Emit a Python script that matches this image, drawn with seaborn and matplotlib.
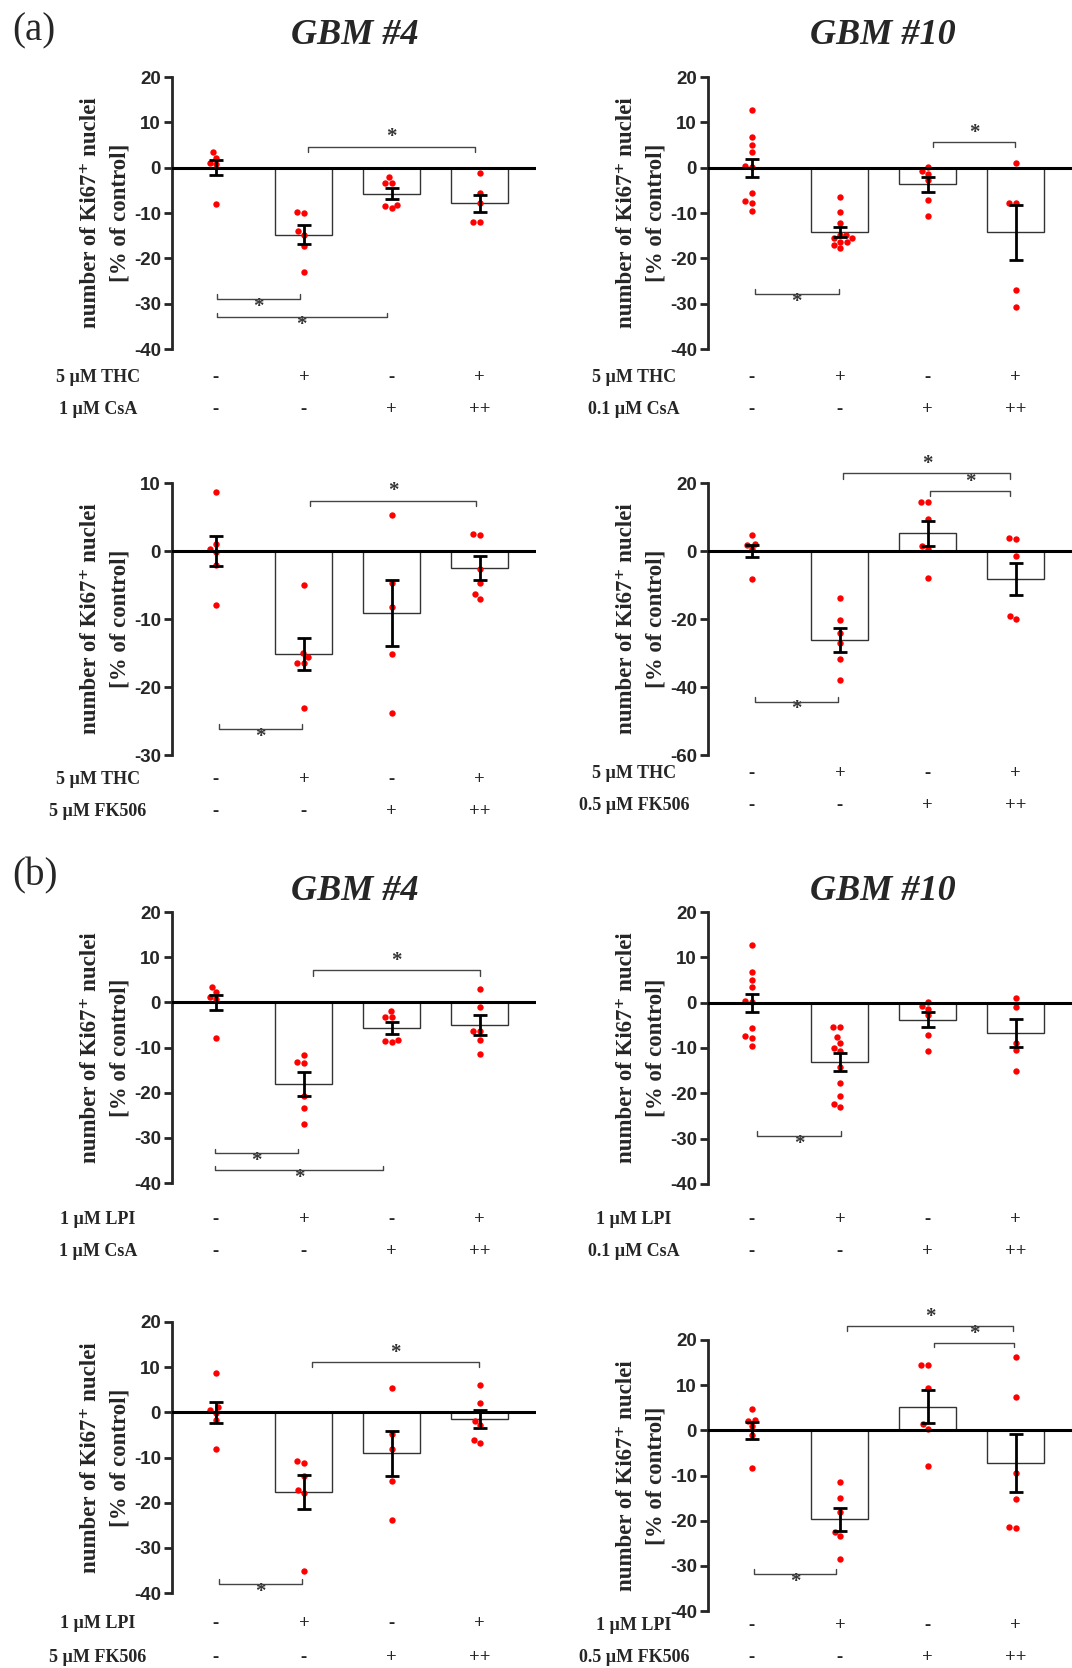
import warnings
import matplotlib
matplotlib.use("Agg")
import matplotlib.pyplot as plt
import matplotlib.transforms as mtransforms
from matplotlib.font_manager import FontProperties
import numpy as np
import pandas as pd
import seaborn as sns

warnings.filterwarnings("ignore")

# ---- data (% of control) ----
groups = ["g0", "g1", "g2", "g3"]
signs_top = ["-", "+", "-", "+"]
signs_bot = ["-", "-", "+", "++"]

# (a) GBM #4, THC + CsA
a1_means = [0.0, -14.8, -5.7, -7.9]
a1_sems = [1.7, 2.05, 1.3, 1.8]
a1_points = [[3.5, 2.2, 1.1, 0.7, -8.1],
             [-10.1, -9.8, -14.8, -14.0, -17.3, -23.1],
             [-2.1, -3.4, -3.4, -8.9, -8.15, -8.5],
             [-1.25, -5.5, -7.7, -12.0, -12.0]]
a1_rows = ["5 µM THC", "1 µM CsA"]

# (a) GBM #10, THC + CsA
a2_means = [0.0, -14.1, -3.7, -14.3]
a2_sems = [1.95, 1.1, 1.65, 6.1]
a2_points = [[12.8, 6.75, 4.9, 3.45, 0.4, 0.15, -5.6, -7.4, -7.7, -9.55],
             [-6.4, -9.8, -12.3, -14.75, -14.75, -15.5, -15.5, -16.3, -16.3, -17.1, -17.8],
             [0.15, -0.7, -1.3, -2.8, -7.2, -10.65],
             [1.0, -7.7, -7.9, -26.9, -30.8]]
a2_rows = ["5 µM THC", "0.1 µM CsA"]

# (a) GBM #4, THC + FK506
a3_means = [0.0, -15.2, -9.1, -2.5]
a3_sems = [2.2, 2.35, 4.9, 1.75]
a3_points = [[8.66, 1.1, 0.34, -0.15, -2.0, -8.0],
             [-5.04, -15.0, -15.65, -16.4, -16.4, -23.05],
             [5.34, -4.65, -8.17, -15.1, -23.8],
             [2.4, 2.55, -2.7, -4.65, -6.36, -7.05]]
a3_rows = ["5 µM THC", "5 µM FK506"]

# (a) GBM #10, THC + FK506
a4_means = [0.0, -26.2, 5.2, -8.3]
a4_sems = [1.85, 3.5, 3.7, 4.7]
a4_points = [[4.6, 2.16, 1.86, 0.5, -8.35],
             [-13.9, -20.3, -24.2, -27.0, -31.9, -38.0],
             [14.5, 14.5, 9.3, 1.47, 0.49, -7.85],
             [3.93, 3.43, -1.47, -19.1, -20.1]]
a4_rows = ["5 µM THC", "0.5 µM FK506"]

# (b) GBM #4, LPI + CsA
b1_means = [0.0, -18.1, -5.7, -5.0]
b1_sems = [1.7, 2.65, 1.25, 2.15]
b1_points = [[3.5, 2.3, 1.2, 0.8, -8.0],
             [-11.6, -13.2, -13.4, -20.8, -23.5, -26.9],
             [-1.9, -3.3, -3.3, -8.3, -8.5, -8.85],
             [2.95, -1.1, -6.3, -6.4, -8.3, -11.5]]
b1_rows = ["1 µM LPI", "1 µM CsA"]

# (b) GBM #10, LPI + CsA
b2_means = [0.0, -13.0, -3.75, -6.7]
b2_sems = [1.95, 2.0, 1.65, 3.0]
b2_points = [[12.8, 6.75, 4.9, 3.45, 0.4, 0.15, -5.6, -7.4, -7.7, -9.55],
             [-5.45, -5.45, -7.5, -8.8, -9.9, -10.7, -14.3, -17.8, -20.5, -22.4, -23.0],
             [0.15, -0.7, -1.3, -2.8, -7.2, -10.65],
             [1.0, -1.0, -8.8, -10.5, -15.0]]
b2_rows = ["1 µM LPI", "0.1 µM CsA"]

# (b) GBM #4, LPI + FK506
b3_means = [0.0, -17.6, -9.1, -1.5]
b3_sems = [2.3, 3.7, 4.9, 2.0]
b3_points = [[8.8, 1.18, 0.44, -0.15, -1.77, -8.04],
             [-10.85, -11.2, -14.0, -17.3, -17.8, -35.1],
             [5.46, -4.72, -8.2, -15.1, -23.8],
             [6.05, 2.14, -1.92, -2.88, -6.1, -6.7]]
b3_rows = ["1 µM LPI", "5 µM FK506"]

# (b) GBM #10, LPI + FK506
b4_means = [0.0, -19.7, 5.25, -7.25]
b4_sems = [1.85, 2.5, 3.7, 6.4]
b4_points = [[4.65, 2.3, 2.1, 1.0, -1.0, -8.4],
             [-11.45, -14.9, -18.0, -22.5, -23.4, -28.4],
             [14.56, 14.56, 9.4, 1.4, 0.37, -7.83],
             [16.3, 7.4, -9.5, -15.1, -21.4, -21.7]]
b4_rows = ["1 µM LPI", "0.5 µM FK506"]

# significance brackets: (x from, x to, line y, tip y, star y)
a1_brackets = [(1.05, 2.95, 4.5, 3.4, 6.8), (0.01, 0.96, -29.0, -27.9, -30.7), (0.01, 1.94, -33.0, -32.0, -34.7)]
a2_brackets = [(2.06, 2.99, 5.7, 4.55, 7.6), (0.03, 0.99, -27.9, -26.8, -29.6)]
a3_brackets = [(1.07, 2.96, 7.4, 6.6, 8.8), (0.03, 0.98, -26.2, -25.45, -27.4)]
a4_brackets = [(1.04, 2.94, 22.8, 21.3, 25.5), (2.03, 2.94, 17.7, 16.2, 20.3), (0.04, 0.98, -44.4, -43.0, -46.6)]
b1_brackets = [(1.1, 3.0, 7.1, 5.9, 9.1), (-0.01, 0.93, -33.4, -32.4, -35.2), (-0.01, 1.9, -37.2, -36.2, -38.9)]
b2_brackets = [(0.06, 1.01, -29.4, -28.35, -31.1)]
b3_brackets = [(1.09, 2.99, 11.1, 10.0, 13.1), (0.03, 0.98, -37.9, -36.9, -39.8)]
b4_brackets = [(1.08, 2.97, 23.1, 22.0, 25.2), (2.07, 2.98, 19.4, 18.4, 21.4), (0.02, 0.96, -31.7, -30.7, -33.5)]

# ---- layout in pixels ----
W, H = 1072, 1668
sns.set_style("ticks")
plt.rcParams["font.family"] = ["Liberation Serif", "DejaVu Serif"]

fig = plt.figure(figsize=(W / 100, H / 100), dpi=100)
tick_font = FontProperties(family="Liberation Sans", weight="bold", size=13.5)


def fy(y):
    return 1 - y / H


def panel(box, ylim, yticks, means, sems, points, brackets, rows, row_y):
    x0, x1, ytop, ybot, col = box
    ax = fig.add_axes([x0 / W, fy(ybot), (x1 - x0) / W, (ybot - ytop) / H])

    sns.barplot(x=groups, y=means, order=groups, color="white", edgecolor="#333333",
                linewidth=1.0, width=0.65, errorbar=None, ax=ax, zorder=1)
    df = pd.DataFrame({"group": np.repeat(groups, [len(p) for p in points]),
                       "value": np.concatenate(points)})
    sns.swarmplot(data=df, x="group", y="value", order=groups, color="red",
                  size=4.6, linewidth=0, ax=ax, zorder=3)
    ax.errorbar(range(4), means, yerr=sems, fmt="none", ecolor="black",
                elinewidth=2, capsize=4.8, capthick=2, zorder=4)
    ax.axhline(0, color="black", lw=2.2, zorder=5)

    ax.set_xlim(-0.5, 3.64)
    ax.set_ylim(*ylim)
    ticks = list(yticks)
    ax.set_yticks(ticks, labels=[str(t) for t in ticks])
    for lbl in ax.get_yticklabels():
        lbl.set_fontproperties(tick_font)
    ax.set_xticks([])
    ax.set_xlabel("")
    ax.set_ylabel("")
    for s in ["top", "right", "bottom"]:
        ax.spines[s].set_visible(False)
    ax.spines["left"].set_linewidth(2.0)
    ax.tick_params(axis="y", direction="out", length=6, width=2.0, pad=2)

    for xa, xb, yl, yt, ys in brackets:
        ax.plot([xa, xa, xb, xb], [yt, yl, yl, yt], color="#444444", lw=1.0,
                clip_on=False, zorder=6)
        ax.text((xa + xb) / 2, ys, "*", ha="center", va="center", fontsize=15,
                fontweight="bold", color="#333333", clip_on=False)

    # y label, two lines
    yc = (ytop + ybot) / 2
    fig.text((col + 90) / W, fy(yc), "number of Ki67⁺ nuclei", rotation=90,
             ha="center", va="center", fontsize=16.5, fontweight="bold")
    fig.text((col + 120) / W, fy(yc), "[% of control]", rotation=90,
             ha="center", va="center", fontsize=16.5, fontweight="bold")

    # treatment rows
    tr = mtransforms.blended_transform_factory(ax.transData, fig.transFigure)
    for label, signs, yy in zip(rows, [signs_top, signs_bot], row_y):
        fig.text((col + 98) / W, fy(yy), label, ha="center", va="center",
                 fontsize=13, fontweight="bold")
        for i, s in enumerate(signs):
            ax.text(i, fy(yy), s, transform=tr, ha="center", va="center",
                    fontsize=13.5, fontweight="bold")
    return ax


panel((172, 536, 77, 349, 0), (-40, 20), range(-40, 21, 10), a1_means, a1_sems, a1_points, a1_brackets, a1_rows, (378, 410))
panel((708, 1072, 77, 349, 536), (-40, 20), range(-40, 21, 10), a2_means, a2_sems, a2_points, a2_brackets, a2_rows, (378, 410))
panel((172, 536, 483, 755, 0), (-30, 10), range(-30, 11, 10), a3_means, a3_sems, a3_points, a3_brackets, a3_rows, (779, 811))
panel((708, 1072, 483, 755, 536), (-60, 20), range(-60, 21, 20), a4_means, a4_sems, a4_points, a4_brackets, a4_rows, (773, 806))
panel((172, 536, 912, 1183, 0), (-40, 20), range(-40, 21, 10), b1_means, b1_sems, b1_points, b1_brackets, b1_rows, (1219, 1252))
panel((708, 1072, 912, 1184, 536), (-40, 20), range(-40, 21, 10), b2_means, b2_sems, b2_points, b2_brackets, b2_rows, (1219, 1252))
panel((172, 536, 1322, 1593, 0), (-40, 20), range(-40, 21, 10), b3_means, b3_sems, b3_points, b3_brackets, b3_rows, (1624, 1657))
panel((708, 1072, 1340, 1611, 536), (-40, 20), range(-40, 21, 10), b4_means, b4_sems, b4_points, b4_brackets, b4_rows, (1625, 1657))

# titles and panel letters
for yy in (35, 892):
    fig.text(355 / W, fy(yy), "GBM #4", ha="center", va="center", fontsize=26,
             fontweight="bold", fontstyle="italic")
    fig.text(883 / W, fy(yy), "GBM #10", ha="center", va="center", fontsize=26,
             fontweight="bold", fontstyle="italic")
fig.text(12 / W, fy(31), "(a)", ha="left", va="center", fontsize=28)
fig.text(12 / W, fy(876), "(b)", ha="left", va="center", fontsize=28)

fig.savefig("out.png", dpi=100)
